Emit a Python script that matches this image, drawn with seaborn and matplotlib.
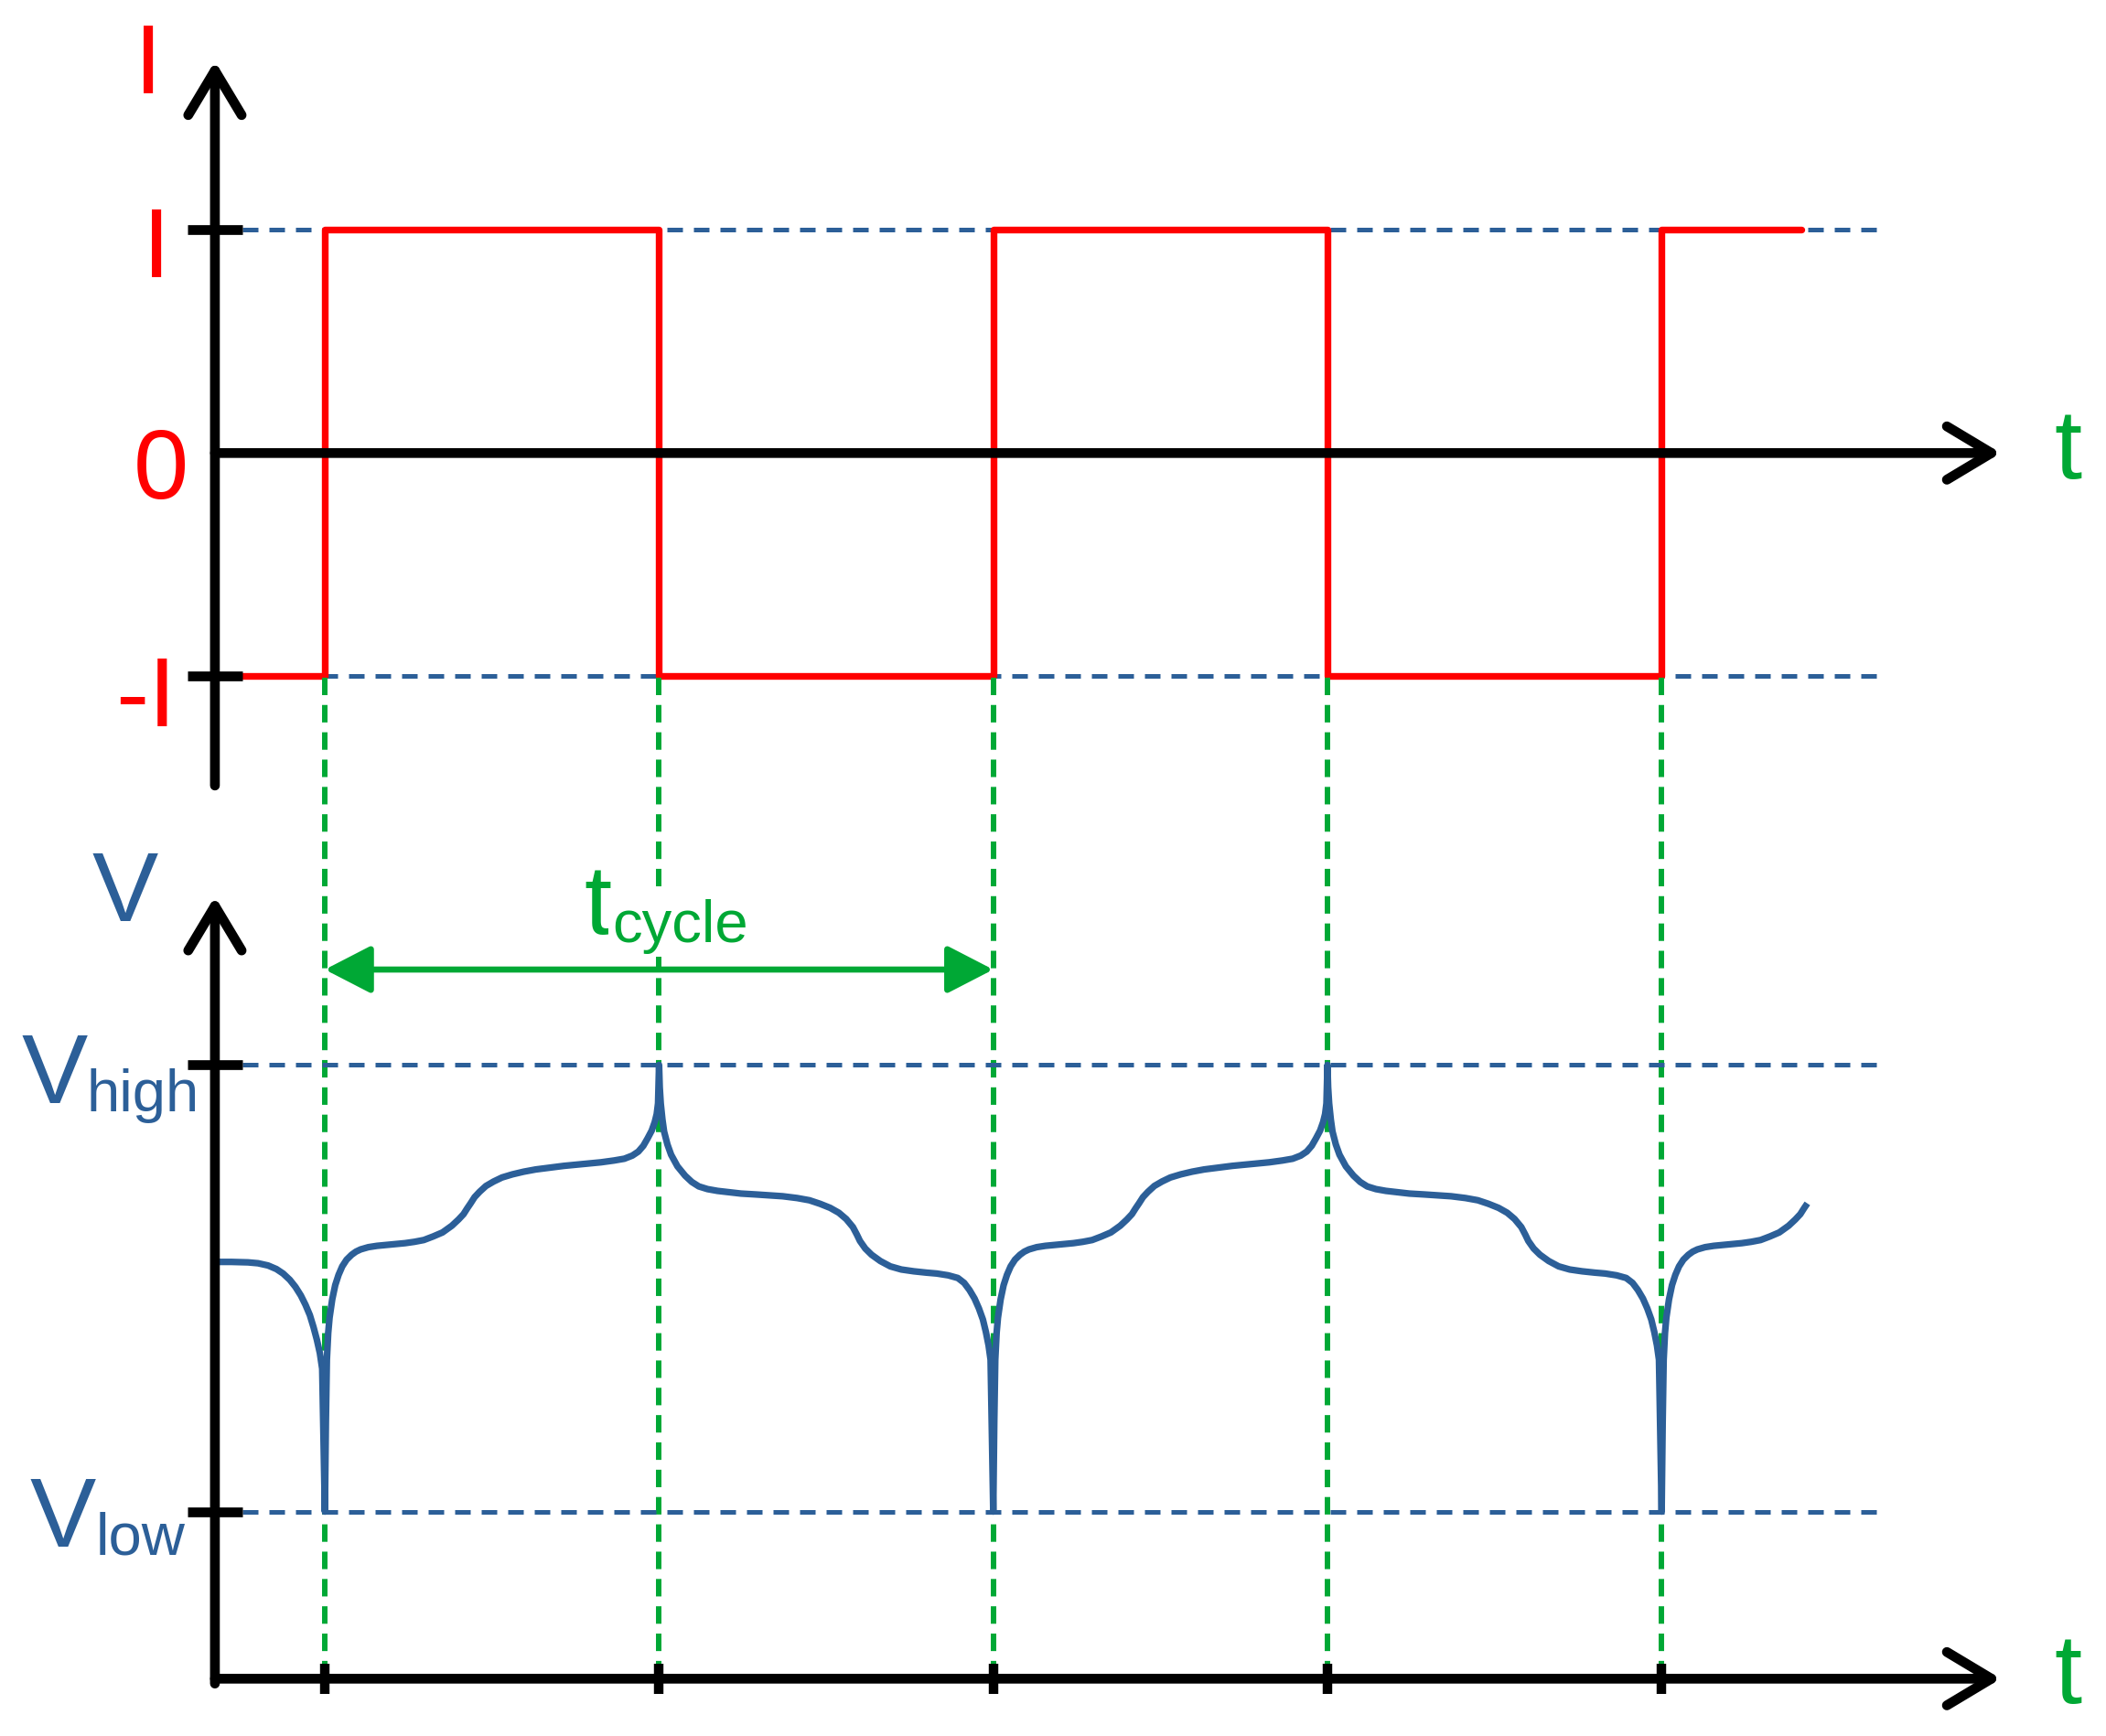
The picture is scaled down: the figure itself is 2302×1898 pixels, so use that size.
# -*- coding: utf-8 -*-
"""
Square-wave current (top) and the resulting cell voltage (bottom),
drawn as a schematic with seaborn / matplotlib.
"""

import matplotlib
matplotlib.use("Agg")
import matplotlib.pyplot as plt
import numpy as np
import pandas as pd
import seaborn as sns

# ============================================================
# DATA
# time in half-cycles (switching instants at 1, 2, 3 ...),
# current in units of I, voltage scaled so V_low = 0, V_high = 1
# ============================================================

SWITCH_T = [1, 2, 3, 4, 5]

CURRENT_T = [0.753, 1, 2, 3, 4, 5, 5.417]
CURRENT_I = [-1, 1, -1, 1, -1, 1, 1]

I_LEVELS = [1, -1]
V_LEVELS = [1, 0]

# voltage before the first switch
LEAD_T = [0.671, 0.72, 0.77, 0.80, 0.83, 0.855, 0.875, 0.895, 0.912, 0.928,
          0.942, 0.955, 0.966, 0.976, 0.985, 0.992, 1.0]
LEAD_V = [0.559, 0.559, 0.558, 0.556, 0.551, 0.543, 0.533, 0.519, 0.503, 0.484,
          0.463, 0.440, 0.413, 0.385, 0.355, 0.320, 0.0]

# charging half-cycle, time measured from the switch
CHARGE_DT = [0.0, 0.003, 0.006, 0.010, 0.014, 0.022, 0.031, 0.041, 0.052, 0.065,
             0.080, 0.093, 0.107, 0.130, 0.156, 0.185, 0.212, 0.240, 0.268, 0.296,
             0.324, 0.352, 0.380, 0.400, 0.415, 0.426, 0.436, 0.448, 0.463, 0.482,
             0.505, 0.530, 0.561, 0.595, 0.631, 0.672, 0.715, 0.770, 0.826, 0.865,
             0.896, 0.920, 0.938, 0.953, 0.966, 0.978, 0.987, 0.993, 0.997, 1.0]
CHARGE_V = [0.0, 0.20, 0.34, 0.40, 0.434, 0.475, 0.507, 0.530, 0.549, 0.564,
            0.575, 0.582, 0.587, 0.592, 0.595, 0.597, 0.599, 0.601, 0.604, 0.608,
            0.616, 0.625, 0.640, 0.654, 0.666, 0.679, 0.690, 0.704, 0.716, 0.729,
            0.739, 0.748, 0.755, 0.761, 0.766, 0.770, 0.774, 0.778, 0.782, 0.786,
            0.790, 0.797, 0.806, 0.819, 0.836, 0.853, 0.872, 0.890, 0.914, 1.0]

# discharging half-cycle, time measured from the switch
DISCHARGE_DT = [0.0, 0.002, 0.005, 0.010, 0.015, 0.025, 0.036, 0.055, 0.078, 0.098,
                0.119, 0.145, 0.175, 0.210, 0.245, 0.290, 0.329, 0.370, 0.413, 0.450,
                0.482, 0.512, 0.538, 0.560, 0.580, 0.592, 0.601, 0.617, 0.636, 0.662,
                0.692, 0.725, 0.762, 0.800, 0.831, 0.865, 0.894, 0.913, 0.929, 0.944,
                0.957, 0.969, 0.978, 0.986, 0.992, 1.0]
DISCHARGE_V = [1.0, 0.95, 0.914, 0.878, 0.851, 0.822, 0.799, 0.773, 0.752, 0.738,
               0.728, 0.722, 0.718, 0.715, 0.712, 0.710, 0.708, 0.706, 0.702, 0.697,
               0.689, 0.680, 0.669, 0.655, 0.637, 0.620, 0.606, 0.589, 0.575, 0.561,
               0.549, 0.542, 0.538, 0.535, 0.533, 0.529, 0.523, 0.512, 0.496, 0.477,
               0.455, 0.430, 0.402, 0.372, 0.340, 0.0]

CHARGE_STARTS = [1, 3, 5]
V_END_T = 5.44

# ============================================================
# STYLE / LAYOUT
# ============================================================

RED   = "#FF0000"
BLUE  = "#2C5F98"
GREEN = "#00A835"

FS_MAIN = 78
FS_SUB  = 47

XLIM    = (0.0279, 6.3296)
I_YLIM  = (-1.6545, 2.034)
V_YLIM  = (-0.5023, 1.5432)
SPLIT   = 900 / 1899          # figure fraction of the top panel

AXIS_X   = 0.671               # position of the vertical axes
TICK_X   = (0.589, 0.753)
DASH_END = 5.674
ARROW_T  = 6.015
V_AXIS_Y = -0.374

AXIS_LW  = 7.7
AXIS_HEAD = "->,head_length=35,head_width=21"
DASH_BLUE = [(0, (3.4, 2.4))]
DASH_GREEN = [(0, (3.2, 1.8))]

sns.set_theme(style="white")
plt.rcParams["font.family"] = ["Liberation Sans", "DejaVu Sans"]

# ============================================================
# BUILD VOLTAGE SERIES
# ============================================================

pieces = [pd.DataFrame({"t": LEAD_T, "v": LEAD_V})]
for start in SWITCH_T:
    if start in CHARGE_STARTS:
        dt, vv = CHARGE_DT, CHARGE_V
    else:
        dt, vv = DISCHARGE_DT, DISCHARGE_V
    pieces.append(pd.DataFrame({"t": np.add(dt, start), "v": vv}))
volt = pd.concat(pieces, ignore_index=True)
volt = volt[volt.t <= V_END_T]

current = pd.DataFrame({"t": CURRENT_T, "i": CURRENT_I})

# ============================================================
# FIGURE
# ============================================================

fig = plt.figure(figsize=(23.02, 18.99), dpi=100)
ax_i = fig.add_axes([0, 1 - SPLIT, 1, SPLIT])
ax_v = fig.add_axes([0, 0, 1, 1 - SPLIT])
for ax in (ax_i, ax_v):
    ax.set_xlim(*XLIM)
    ax.patch.set_alpha(0)
ax_i.set_ylim(*I_YLIM)
ax_v.set_ylim(*V_YLIM)


def axis_arrow(ax, start, tip):
    ax.annotate("", xy=tip, xytext=start,
                arrowprops=dict(arrowstyle=AXIS_HEAD, color="black", lw=AXIS_LW,
                                shrinkA=0, shrinkB=0, mutation_scale=1),
                annotation_clip=False)


# --- current panel ---
ax_i.hlines(I_LEVELS, TICK_X[1], DASH_END, colors=BLUE, lw=3.6,
            linestyles=DASH_BLUE, zorder=1)
sns.lineplot(data=current, x="t", y="i", ax=ax_i, color=RED, lw=5.3,
             drawstyle="steps-post", estimator=None, sort=False, zorder=3)
axis_arrow(ax_i, (AXIS_X, -1.49), (AXIS_X, 1.756))
axis_arrow(ax_i, (AXIS_X, 0), (ARROW_T, 0))
ax_i.hlines(I_LEVELS, *TICK_X, colors="black", lw=AXIS_LW, zorder=4)

txt = dict(ha="center", va="baseline", fontsize=FS_MAIN)
ax_i.text(0.4728, 1.616, "I", color=RED, **txt)
ax_i.text(0.4974, 0.7934, "I", color=RED, **txt)
ax_i.text(0.5097, -0.2016, "0", color=RED, **txt)
ax_i.text(0.464, -1.2201, "-I", color=RED, **txt)
ax_i.text(6.217, -0.108, "t", color=GREEN, **txt)

# --- voltage panel ---
# green guides run up to the -I level of the current panel
guide_top = ax_v.transData.inverted().transform(
    ax_i.transData.transform((SWITCH_T[0], -1)))[1]
ax_v.vlines(SWITCH_T, V_AXIS_Y, guide_top, colors=GREEN, lw=4.3,
            linestyles=DASH_GREEN, zorder=1, clip_on=False)
ax_v.hlines(V_LEVELS, TICK_X[1], DASH_END, colors=BLUE, lw=3.6,
            linestyles=DASH_BLUE, zorder=1.5)
sns.lineplot(data=volt, x="t", y="v", ax=ax_v, color=BLUE, lw=5.2,
             estimator=None, sort=False, zorder=3,
             solid_joinstyle="round", solid_capstyle="butt")
axis_arrow(ax_v, (AXIS_X, -0.385), (AXIS_X, 1.377))
axis_arrow(ax_v, (AXIS_X, V_AXIS_Y), (ARROW_T, V_AXIS_Y))
ax_v.hlines(V_LEVELS, *TICK_X, colors="black", lw=AXIS_LW, zorder=4)
ax_v.vlines(SWITCH_T, -0.408, -0.341, colors="black", lw=7.5, zorder=4)

# t_cycle double arrow
ax_v.annotate("", xy=(SWITCH_T[2], 1.2135), xytext=(SWITCH_T[0], 1.2135),
              arrowprops=dict(arrowstyle="<|-|>,head_length=31,head_width=16",
                              color=GREEN, lw=4.8, shrinkA=0, shrinkB=0,
                              mutation_scale=1))

ax_v.text(0.401, 1.3247, "V", color=BLUE, **txt)
ax_v.text(0.190, 0.9167, "V", color=BLUE, **txt)
ax_v.text(0.2875, 0.8982, "high", color=BLUE, ha="left", va="baseline", fontsize=FS_SUB)
ax_v.text(0.216, -0.0758, "V", color=BLUE, **txt)
ax_v.text(0.3153, -0.0948, "low", color=BLUE, ha="left", va="baseline", fontsize=FS_SUB)
ax_v.text(1.7744, 1.296, "t", color=GREEN, ha="left", va="baseline", fontsize=FS_MAIN)
ax_v.text(1.8593, 1.2771, "cycle", color=GREEN, ha="left", va="baseline", fontsize=FS_SUB,
          bbox=dict(facecolor="white", edgecolor="none", pad=3), zorder=5)
ax_v.text(6.217, -0.426, "t", color=GREEN, **txt)

for ax in (ax_i, ax_v):
    ax.set_axis_off()

fig.savefig("out.png", dpi=100)
